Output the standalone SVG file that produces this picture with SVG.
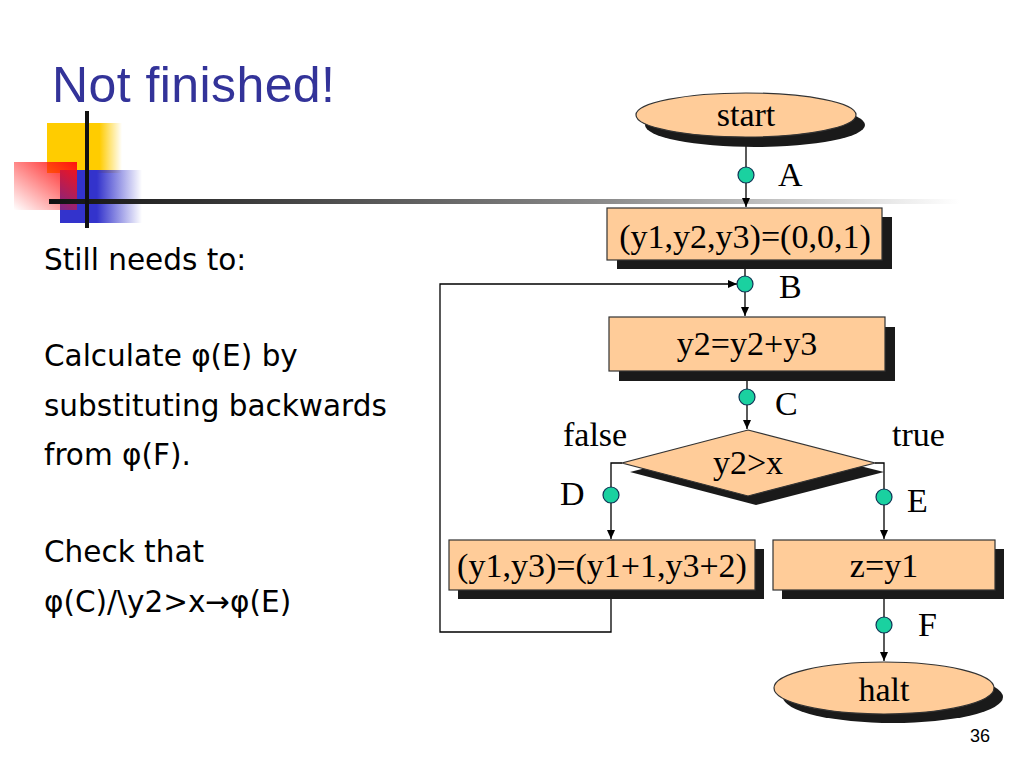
<svg xmlns="http://www.w3.org/2000/svg" width="1024" height="768" viewBox="0 0 1024 768">
<defs>
<style>
.node{fill:#FFCC99;stroke:#333;stroke-width:1.2}
.shadow{fill:#1a1a1a}
.lbl{font-family:"Liberation Serif","Times New Roman",serif;font-size:34px;fill:#000}
.body{font-family:"DejaVu Sans","Liberation Sans",sans-serif;font-size:29.5px;fill:#000}
.conn{fill:none;stroke:#000;stroke-width:1.3}
.dot{fill:#1AD1A0;stroke:#135;stroke-width:1.2}
</style>
<marker id="ah" markerWidth="10" markerHeight="10" refX="9" refY="5" orient="auto" markerUnits="userSpaceOnUse">
<path d="M0,1 L9,5 L0,9 z" fill="#000"/>
</marker>
<linearGradient id="gy" x1="0" y1="0" x2="1" y2="0">
<stop offset="0" stop-color="#FFCC00"/><stop offset="0.7" stop-color="#FFCC00"/><stop offset="1" stop-color="#FFCC00" stop-opacity="0"/>
</linearGradient>
<linearGradient id="gb" x1="0" y1="0" x2="1" y2="0">
<stop offset="0" stop-color="#3333CC"/><stop offset="0.45" stop-color="#3333CC"/><stop offset="1" stop-color="#3333CC" stop-opacity="0"/>
</linearGradient>
<linearGradient id="gr" x1="1" y1="0" x2="0" y2="1">
<stop offset="0" stop-color="#FF1111"/><stop offset="1" stop-color="#FF1111" stop-opacity="0"/>
</linearGradient>
<linearGradient id="gl" x1="0" y1="0" x2="1" y2="0">
<stop offset="0" stop-color="#111"/><stop offset="0.6" stop-color="#888"/><stop offset="1" stop-color="#fff"/>
</linearGradient>
</defs>
<rect width="1024" height="768" fill="#fff"/>

<g id="decoration">
<rect x="47" y="123" width="75" height="50" fill="url(#gy)"/>
<rect x="60" y="170" width="82" height="53" fill="url(#gb)"/>
<rect x="14" y="162" width="63" height="48" fill="url(#gr)"/>
<rect x="49" y="199" width="911" height="5" fill="url(#gl)"/>
<rect x="85" y="111" width="4" height="117" fill="#111"/>
</g>

<g id="title"><text x="52" y="102" font-family="Liberation Sans, Arial, sans-serif" font-size="50" fill="#333399" textLength="283">Not finished!</text></g>

<g id="bodytext">
<text class="body" x="44" y="270">Still needs to:</text>
<text class="body" x="44" y="366">Calculate φ(E) by</text>
<text class="body" x="44" y="416">substituting backwards</text>
<text class="body" x="44" y="465">from φ(F).</text>
<text class="body" x="44" y="562">Check that</text>
<text class="body" x="44" y="612">φ(C)/\y2&gt;x→φ(E)</text>
</g>

<g id="connectors">
<path class="conn" d="M746,137 V207" marker-end="url(#ah)"/>
<path class="conn" d="M745,260 V316" marker-end="url(#ah)"/>
<path class="conn" d="M747,371 V429" marker-end="url(#ah)"/>
<path class="conn" d="M622,463 H611 V539" marker-end="url(#ah)"/>
<path class="conn" d="M875,463 H884 V539" marker-end="url(#ah)"/>
<path class="conn" d="M884,590 V661" marker-end="url(#ah)"/>
<path class="conn" d="M611,590 V632 H440 V284 H737" marker-end="url(#ah)"/>
</g>

<g id="start">
<ellipse class="shadow" cx="755" cy="125" rx="110" ry="22"/>
<ellipse class="node" cx="746" cy="115" rx="110" ry="22"/>
<text class="lbl" x="746" y="126" text-anchor="middle">start</text>
</g>

<g id="init">
<rect class="shadow" x="617" y="217" width="275" height="52"/>
<rect class="node" x="607" y="208" width="275" height="52"/>
<text class="lbl" x="745" y="248" text-anchor="middle">(y1,y2,y3)=(0,0,1)</text>
</g>

<g id="inc">
<rect class="shadow" x="619" y="327" width="276" height="54"/>
<rect class="node" x="609" y="317" width="276" height="54"/>
<text class="lbl" x="747" y="355" text-anchor="middle">y2=y2+y3</text>
</g>

<g id="decision">
<polygon class="shadow" points="756,440 884,472 756,505 630,472"/>
<polygon class="node" points="748,430 875,463 748,496 622,463"/>
<text class="lbl" x="748" y="474" text-anchor="middle">y2&gt;x</text>
<text class="lbl" x="563" y="446">false</text>
<text class="lbl" x="892" y="446">true</text>
</g>

<g id="update">
<rect class="shadow" x="458" y="549" width="306" height="50"/>
<rect class="node" x="449" y="540" width="306" height="50"/>
<text class="lbl" x="602" y="577" text-anchor="middle">(y1,y3)=(y1+1,y3+2)</text>
</g>

<g id="assign">
<rect class="shadow" x="782" y="549" width="222" height="50"/>
<rect class="node" x="773" y="540" width="222" height="50"/>
<text class="lbl" x="884" y="577" text-anchor="middle">z=y1</text>
</g>

<g id="halt">
<ellipse class="shadow" cx="893" cy="697" rx="110" ry="26"/>
<ellipse class="node" cx="884" cy="688" rx="110" ry="26"/>
<text class="lbl" x="884" y="701" text-anchor="middle">halt</text>
</g>

<g id="points">
<circle class="dot" cx="746" cy="175" r="8"/><text class="lbl" x="778" y="186">A</text>
<circle class="dot" cx="745" cy="284" r="8"/><text class="lbl" x="779" y="298">B</text>
<circle class="dot" cx="747" cy="397" r="8"/><text class="lbl" x="775" y="415">C</text>
<circle class="dot" cx="611" cy="495" r="8"/><text class="lbl" x="560" y="505">D</text>
<circle class="dot" cx="884" cy="497" r="8"/><text class="lbl" x="907" y="512">E</text>
<circle class="dot" cx="884" cy="625" r="8"/><text class="lbl" x="918" y="636">F</text>
</g>

<g id="pagenum"><text x="990" y="742" text-anchor="end" font-family="Liberation Sans, Arial, sans-serif" font-size="18" fill="#000">36</text></g>
</svg>
